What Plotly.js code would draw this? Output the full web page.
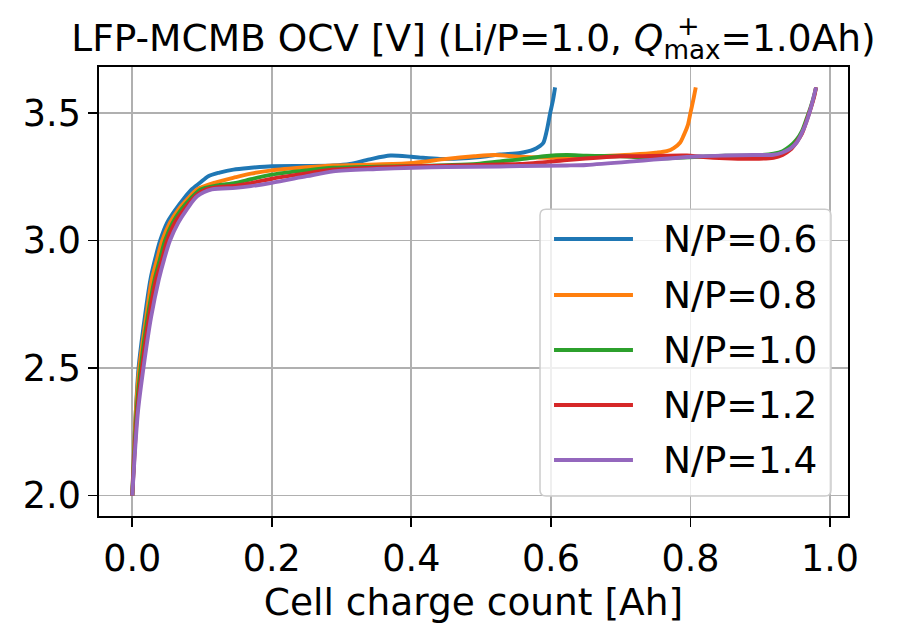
<!DOCTYPE html>
<html>
<head>
<meta charset="utf-8">
<script src="https://cdn.plot.ly/plotly-3.0.1.min.js"></script>
<style>
  html, body { margin: 0; padding: 0; background: #fff; }
  #graph { width: 899px; height: 638px; }
</style>
</head>
<body>
<div id="graph"></div>
<script>
// series: charge count [Ah] vs OCV [V]
const npLabels = ["N/P=0.6", "N/P=0.8", "N/P=1.0", "N/P=1.2", "N/P=1.4"];

const q06 = [0, 0.005, 0.009, 0.018, 0.026, 0.033, 0.040, 0.050, 0.062, 0.074, 0.085, 0.097, 0.109, 0.125, 0.145, 0.17, 0.2, 0.25, 0.288, 0.312, 0.34, 0.37, 0.40, 0.413, 0.441, 0.475, 0.508, 0.527, 0.556, 0.575, 0.584, 0.589, 0.594, 0.599, 0.603, 0.606];
const v06 = [2.0, 2.325, 2.5, 2.7, 2.847, 2.93, 3.0, 3.07, 3.121, 3.165, 3.2, 3.226, 3.252, 3.266, 3.278, 3.285, 3.291, 3.292, 3.294, 3.30, 3.318, 3.333, 3.328, 3.325, 3.32, 3.322, 3.33, 3.337, 3.343, 3.356, 3.37, 3.382, 3.43, 3.5, 3.55, 3.6];

const q08 = [0, 0.005, 0.010, 0.02, 0.028, 0.036, 0.043, 0.054, 0.066, 0.08, 0.093, 0.12, 0.148, 0.17, 0.2, 0.25, 0.288, 0.35, 0.403, 0.45, 0.49, 0.52, 0.556, 0.62, 0.651, 0.718, 0.75, 0.766, 0.776, 0.785, 0.79, 0.796, 0.8, 0.804, 0.8076];
const v08 = [2.0, 2.325, 2.5, 2.7, 2.847, 2.93, 3.0, 3.07, 3.121, 3.165, 3.2, 3.228, 3.248, 3.262, 3.275, 3.287, 3.294, 3.298, 3.304, 3.32, 3.33, 3.335, 3.328, 3.324, 3.328, 3.337, 3.344, 3.35, 3.362, 3.383, 3.41, 3.45, 3.5, 3.55, 3.6];

const q10 = [0, 0.006, 0.012, 0.022, 0.032, 0.04, 0.047, 0.058, 0.07, 0.084, 0.098, 0.12, 0.148, 0.17, 0.2, 0.25, 0.288, 0.35, 0.403, 0.45, 0.494, 0.527, 0.556, 0.59, 0.623, 0.651, 0.7, 0.75, 0.78, 0.814, 0.85, 0.89, 0.919, 0.932, 0.943, 0.952, 0.96, 0.966, 0.972, 0.977, 0.98];
const v10 = [2.0, 2.325, 2.5, 2.7, 2.847, 2.93, 3.0, 3.07, 3.121, 3.165, 3.2, 3.215, 3.226, 3.24, 3.258, 3.275, 3.285, 3.289, 3.291, 3.295, 3.30, 3.31, 3.318, 3.33, 3.335, 3.332, 3.33, 3.322, 3.324, 3.328, 3.332, 3.333, 3.34, 3.35, 3.37, 3.395, 3.43, 3.474, 3.52, 3.565, 3.6];

const q12 = [0, 0.007, 0.014, 0.024, 0.034, 0.043, 0.05, 0.061, 0.074, 0.093, 0.106, 0.12, 0.148, 0.17, 0.2, 0.25, 0.288, 0.35, 0.403, 0.45, 0.527, 0.556, 0.604, 0.623, 0.699, 0.718, 0.795, 0.814, 0.85, 0.89, 0.919, 0.932, 0.943, 0.952, 0.96, 0.966, 0.972, 0.977, 0.98];
const v12 = [2.0, 2.325, 2.5, 2.7, 2.847, 2.93, 3.0, 3.07, 3.121, 3.18, 3.2, 3.208, 3.215, 3.225, 3.242, 3.263, 3.278, 3.286, 3.291, 3.293, 3.298, 3.30, 3.31, 3.315, 3.33, 3.33, 3.333, 3.328, 3.322, 3.32, 3.324, 3.335, 3.355, 3.385, 3.42, 3.465, 3.515, 3.56, 3.6];

const q14 = [0, 0.008, 0.016, 0.027, 0.038, 0.046, 0.054, 0.066, 0.078, 0.093, 0.114, 0.148, 0.17, 0.2, 0.25, 0.288, 0.35, 0.403, 0.45, 0.527, 0.556, 0.623, 0.651, 0.718, 0.747, 0.814, 0.85, 0.89, 0.919, 0.932, 0.943, 0.952, 0.962, 0.969, 0.975, 0.98];
const v14 = [2.0, 2.325, 2.5, 2.7, 2.847, 2.93, 3.0, 3.07, 3.121, 3.173, 3.2, 3.206, 3.213, 3.226, 3.252, 3.271, 3.28, 3.285, 3.288, 3.29, 3.292, 3.294, 3.296, 3.31, 3.317, 3.33, 3.333, 3.335, 3.336, 3.345, 3.36, 3.383, 3.435, 3.487, 3.545, 3.6];

const qSeries = [q06, q08, q10, q12, q14];
const vSeries = [v06, v08, v10, v12, v14];
const colors = ["#1f77b4", "#ff7f0e", "#2ca02c", "#d62728", "#9467bd"];

const traces = npLabels.map(function (name, i) {
    return {
        x: qSeries[i], y: vSeries[i], name: name,
        type: "scatter", mode: "lines",
        line: { color: colors[i], width: 3.9, shape: "spline", smoothing: 0.8 }
    };
});

// legend box drawn by hand (matplotlib style: long samples, rounded frame)
const lg = { x0: 0.5888, x1: 0.9773, y0: 0.0445, y1: 0.6831, rx: 0.008, ry: 0.0134 };
const boxPath = "M " + (lg.x0 + lg.rx) + "," + lg.y0 +
    " L " + (lg.x1 - lg.rx) + "," + lg.y0 + " Q " + lg.x1 + "," + lg.y0 + " " + lg.x1 + "," + (lg.y0 + lg.ry) +
    " L " + lg.x1 + "," + (lg.y1 - lg.ry) + " Q " + lg.x1 + "," + lg.y1 + " " + (lg.x1 - lg.rx) + "," + lg.y1 +
    " L " + (lg.x0 + lg.rx) + "," + lg.y1 + " Q " + lg.x0 + "," + lg.y1 + " " + lg.x0 + "," + (lg.y1 - lg.ry) +
    " L " + lg.x0 + "," + (lg.y0 + lg.ry) + " Q " + lg.x0 + "," + lg.y0 + " " + (lg.x0 + lg.rx) + "," + lg.y0 + " Z";

const rowY = [0.6169, 0.4922, 0.3697, 0.2472, 0.1247];
const shapes = [{
    type: "path", path: boxPath, xref: "paper", yref: "paper", layer: "above",
    fillcolor: "rgba(255,255,255,0.8)", line: { color: "#cccccc", width: 1.5 }
}];
const annotations = [];
npLabels.forEach(function (name, i) {
    shapes.push({
        type: "line", xref: "paper", yref: "paper", layer: "above",
        x0: 0.6075, x1: 0.7129, y0: rowY[i], y1: rowY[i],
        line: { color: colors[i], width: 4 }
    });
    annotations.push({
        text: name, xref: "paper", yref: "paper", x: 0.751, y: rowY[i],
        xanchor: "left", yanchor: "middle", showarrow: false,
        font: { size: 37.5, color: "#000" }
    });
});
// stacked superscript of Q in the title
annotations.push({
    text: "+", xref: "paper", yref: "paper", x: 0.787, y: 1.092,
    xanchor: "center", yanchor: "middle", showarrow: false,
    font: { size: 27, color: "#000" }
});

const axisCommon = {
    showline: true, mirror: true, linecolor: "#000", linewidth: 1.8,
    ticks: "outside", ticklen: 9, tickwidth: 1.8, tickcolor: "#000",
    showgrid: true, gridcolor: "#b0b0b0", gridwidth: 1.8,
    zeroline: false, tickfont: { size: 36.5, color: "#000" }
};

const layout = {
    width: 899, height: 638,
    margin: { l: 99, r: 51, t: 67, b: 122 },
    paper_bgcolor: "#fff", plot_bgcolor: "#fff",
    font: { family: "DejaVu Sans", color: "#000", size: 36 },
    title: {
        text: "LFP-MCMB OCV [V] (Li/P=1.0, <i>Q</i><sub>max</sub>=1.0Ah)",
        font: { size: 37.5, color: "#000" },
        x: 0.5, xref: "paper", y: 1 - 38 / 638, yref: "container", yanchor: "middle"
    },
    xaxis: Object.assign({}, axisCommon, {
        range: [-0.0477, 1.0258], dtick: 0.2, tick0: 0, tickformat: ".1f",
        title: { text: "Cell charge count [Ah]", font: { size: 37.5 }, standoff: 6 }
    }),
    yaxis: Object.assign({}, axisCommon, {
        range: [1.92, 3.68], dtick: 0.5, tick0: 2.0, tickformat: ".1f"
    }),
    shapes: shapes,
    annotations: annotations,
    showlegend: false
};

Plotly.newPlot("graph", traces, layout, { displayModeBar: false, staticPlot: true });
</script>
</body>
</html>
